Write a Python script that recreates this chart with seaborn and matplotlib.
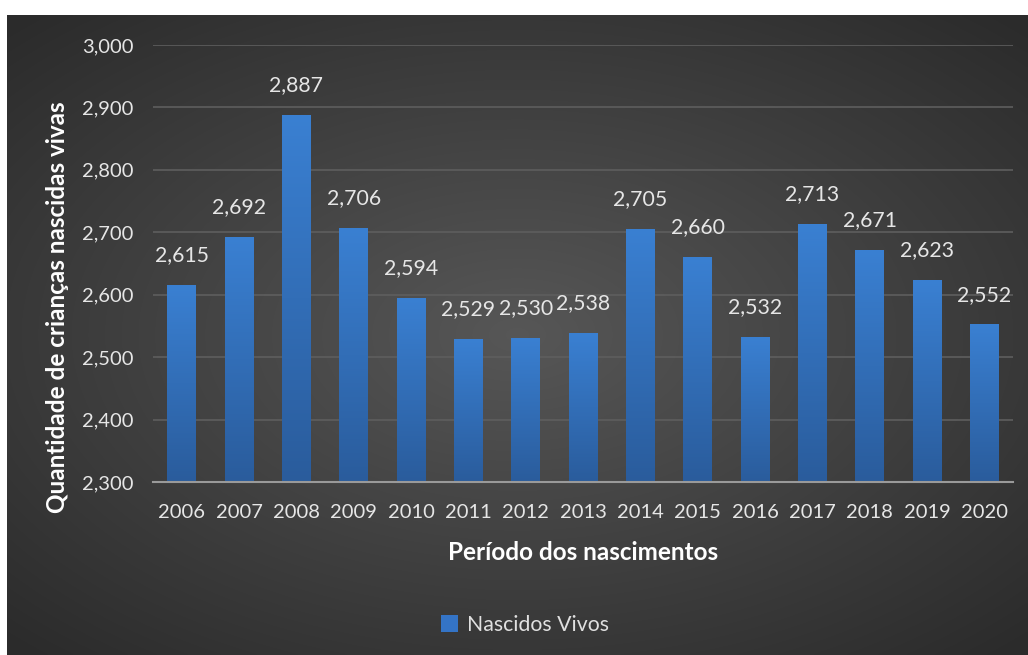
import numpy as np
import pandas as pd
import matplotlib
matplotlib.use("Agg")
import matplotlib.pyplot as plt
from matplotlib.patches import Patch
import seaborn as sns

years = ["2006", "2007", "2008", "2009", "2010", "2011", "2012", "2013",
         "2014", "2015", "2016", "2017", "2018", "2019", "2020"]
births = [2615, 2692, 2887, 2706, 2594, 2529, 2530, 2538,
          2705, 2660, 2532, 2713, 2671, 2623, 2552]
series_name = "Nascidos Vivos"
y_ticks = [2300, 2400, 2500, 2600, 2700, 2800, 2900, 3000]

df = pd.DataFrame({"Ano": years, "Nascidos": births})

sns.set_theme(style="dark")
plt.rcParams["font.family"] = ["Lato", "DejaVu Sans"]

W, H = 1028, 655
fig = plt.figure(figsize=(W / 100, H / 100), dpi=100, facecolor="white")

# background panel with radial gradient
bg = fig.add_axes([7 / W, 0, 1 - 7 / W, 1 - 15 / H], zorder=-10)
gx, gy = np.meshgrid(np.linspace(-1, 1, 400), np.linspace(-1, 1, 300))
r = np.sqrt((gx * 0.95) ** 2 + (gy * 1.0) ** 2)
shade = 0.34 - 0.17 * np.clip(r / 1.35, 0, 1)
bg.imshow(np.dstack([shade, shade, shade]), aspect="auto", extent=[0, 1, 0, 1],
          interpolation="bilinear")
bg.set_axis_off()

ax = fig.add_axes([153 / W, 1 - 482 / H, (1013 - 153) / W, (482 - 45) / H])
ax.patch.set_alpha(0)

sns.barplot(data=df, x="Ano", y="Nascidos", color="#3474c6", width=0.5,
            ax=ax, zorder=3, saturation=1, linewidth=0)
if ax.legend_ is not None:
    ax.legend_.remove()

ymin, ymax = 2300, 3000

# gradient fill on bars (drawn over each bar's own extent)
grad = np.linspace(0, 1, 256).reshape(-1, 1)
top_c = np.array([0x3a, 0x80, 0xd2]) / 255
bot_c = np.array([0x2a, 0x5c, 0x9c]) / 255
img = (top_c * (1 - grad[..., None]) + bot_c * grad[..., None]).reshape(256, 1, 3)
for p in ax.patches:
    x0, w, h = p.get_x(), p.get_width(), p.get_height()
    p.set_alpha(0)
    ax.imshow(img, extent=[x0, x0 + w, ymin, h], aspect="auto",
              zorder=3.5, interpolation="bilinear")

ax.set_xlim(-0.5, len(years) - 0.5)
ax.set_ylim(ymin, ymax)
ax.set_yticks(y_ticks)
ax.set_yticklabels([f"{v:,}" for v in y_ticks])

for i, v in enumerate(births):
    ax.text(i, v + 32, f"{v:,}", ha="center", va="bottom", color="#e6e6e6",
            fontsize=15.3, zorder=5)

ax.grid(axis="y", color="#5e5e5e", linewidth=1.2, zorder=0)
ax.grid(axis="x", visible=False)
for s in ["top", "right", "left"]:
    ax.spines[s].set_visible(False)
ax.spines["bottom"].set_color("#9a9a9a")
ax.spines["bottom"].set_linewidth(1.5)
ax.spines["bottom"].set_zorder(6)
ax.tick_params(axis="both", colors="#e6e6e6", labelsize=14.5, length=0)
ax.tick_params(axis="y", pad=14)
ax.tick_params(axis="x", pad=16)

ax.set_xlabel("Período dos nascimentos", color="white", fontsize=17.5,
              fontweight="bold", labelpad=16)
ax.xaxis.set_label_coords(0.5, (482 - 553) / (482 - 45), transform=ax.transAxes)
ax.xaxis.label.set_verticalalignment("center")
ax.set_ylabel("Quantidade de crianças nascidas vivas", color="white",
              fontsize=17.5, fontweight="bold")
ax.yaxis.set_label_coords((58 - 153) / (1013 - 153), (482 - 307) / (482 - 45))
ax.yaxis.label.set_verticalalignment("center")

handle = Patch(facecolor="#3474c6", edgecolor="none")
fig.legend([handle], [series_name], loc="center",
           bbox_to_anchor=(525 / W, 1 - 625 / H),
           frameon=False, fontsize=15.3, labelcolor="#e0e0e0",
           handlelength=0.8, handleheight=0.8, handletextpad=0.4)

fig.savefig("out.png", dpi=100, facecolor="white")
